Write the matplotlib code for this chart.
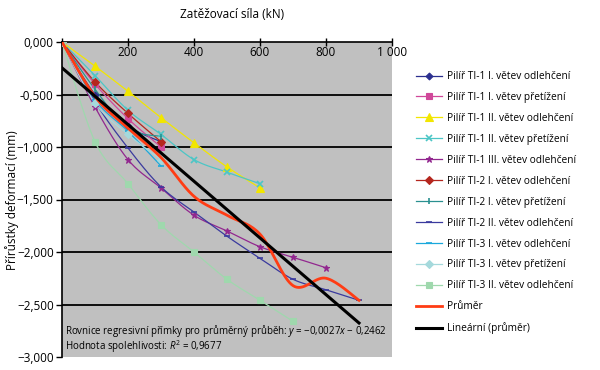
import matplotlib
matplotlib.use("Agg")
import matplotlib.pyplot as plt
import numpy as np

plt.rcParams['font.family'] = ['Open Sans', 'DejaVu Sans']
plt.rcParams['mathtext.fontset'] = 'custom'
plt.rcParams['mathtext.rm'] = 'Open Sans'
plt.rcParams['mathtext.it'] = 'Open Sans:italic'

# data (load kN -> deformation increment mm)
x_tab = [0, 100, 200, 300, 400, 500, 600, 700, 800, 900]

ti1_I_odl = [0, -0.50, -0.80, -0.95]
ti1_I_pret = [0, -0.40, -0.73, -1.00]
ti1_II_odl = [0, -0.23, -0.47, -0.72, -0.96, -1.19, -1.39]
ti1_II_pret = [0, -0.32, -0.65, -0.88, -1.12, -1.24, -1.35]
ti1_III_odl = [0, -0.62, -1.12, -1.39, -1.65, -1.80, -1.95, -2.05, -2.15]
ti2_I_odl = [0, -0.38, -0.68, -0.95]
ti2_I_pret = [0, -0.45, -0.82, -0.90]
ti2_II_odl = [0, -0.57, -1.01, -1.38, -1.62, -1.85, -2.06, -2.26, -2.36, -2.46]
ti3_I_odl = [0, -0.55, -0.85, -1.18]
ti3_I_pret = [0, -0.58, -0.88, -1.12]
ti3_II_odl = [0, -0.95, -1.35, -1.74, -2.00, -2.26, -2.46, -2.66]
prumer = [0, -0.52, -0.82, -1.10, -1.47, -1.65, -1.83, -2.32, -2.25, -2.46]

slope, intercept = -0.0027, -0.2462
lin_x = [0, 900]

labels = [
    'Pilíř TI-1 I. větev odlehčení',
    'Pilíř TI-1 I. větev přetížení',
    'Pilíř TI-1 II. větev odlehčení',
    'Pilíř TI-1 II. větev přetížení',
    'Pilíř TI-1 III. větev odlehčení',
    'Pilíř TI-2 I. větev odlehčení',
    'Pilíř TI-2 I. větev přetížení',
    'Pilíř TI-2 II. větev odlehčení',
    'Pilíř TI-3 I. větev odlehčení',
    'Pilíř TI-3 I. větev přetížení',
    'Pilíř TI-3 II. větev odlehčení',
    'Průměr',
    'Lineární (průměr)',
]
series = [ti1_I_odl, ti1_I_pret, ti1_II_odl, ti1_II_pret, ti1_III_odl, ti2_I_odl,
          ti2_I_pret, ti2_II_odl, ti3_I_odl, ti3_I_pret, ti3_II_odl]
colors = ['#2b2f8f', '#d0489a', '#f2e600', '#4cc6c6', '#92278f', '#b5261e',
          '#2a9090', '#3a3a9e', '#1aa8dc', '#a5d9dc', '#9fd8ad']
markers = ['D', 's', '^', 'x', '*', 'D', '|', '_', '_', 'D', 's']
msizes = [3.5, 4.5, 5.5, 4, 5, 4.5, 5, 4, 5, 4, 4.5]

x_ticks = [0, 200, 400, 600, 800, 1000]
x_ticklabels = ['', '200', '400', '600', '800', '1 000']
y_ticks = [0, -0.5, -1.0, -1.5, -2.0, -2.5, -3.0]
y_ticklabels = ['0,000', '-0,500', '\u22121,000', '\u22121,500', '\u22122,000', '\u22122,500', '\u22123,000']


def smooth(xs, ys, n=20):
    # Catmull-Rom curve through the points (like Excel "smoothed line")
    xs = np.asarray(xs, float)
    ys = np.asarray(ys, float)
    P = np.column_stack([xs, ys])
    P = np.vstack([P[0], P, P[-1]])
    out = []
    t = np.linspace(0, 1, n)[:, None]
    for i in range(1, len(P) - 2):
        p0, p1, p2, p3 = P[i - 1], P[i], P[i + 1], P[i + 2]
        seg = 0.5 * ((2 * p1) + (-p0 + p2) * t + (2 * p0 - 5 * p1 + 4 * p2 - p3) * t ** 2
                     + (-p0 + 3 * p1 - 3 * p2 + p3) * t ** 3)
        out.append(seg)
    out = np.vstack(out)
    return out[:, 0], out[:, 1]


fig = plt.figure(figsize=(6, 3.7), dpi=100)
ax = fig.add_axes([62 / 600, 13 / 370, 330 / 600, 315 / 370])
ax.set_facecolor('#c0c0c0')

handles = []
for ys, c, m, ms, lab in zip(series, colors, markers, msizes, labels):
    xs = x_tab[:len(ys)]
    sx, sy = smooth(xs, ys)
    ax.plot(sx, sy, color=c, lw=0.9, zorder=3)
    mw = 1.2 if m in ('x', '|', '_') else 0.8
    ax.plot(xs, ys, ls='none', marker=m, ms=ms, color=c, mec=c, mew=mw, zorder=4)
    h, = ax.plot([], [], color=c, lw=0.9, marker=m, ms=ms, mec=c, mew=mw, label=lab)
    handles.append(h)

sx, sy = smooth(x_tab, prumer)
ax.plot(sx, sy, color='#ff3c14', lw=2.0, zorder=5)
h, = ax.plot([], [], color='#ff3c14', lw=2.0, label=labels[11])
handles.append(h)

lx = np.array(lin_x, float)
ax.plot(lx, slope * lx + intercept, color='black', lw=2.2, zorder=6)
h, = ax.plot([], [], color='black', lw=2.2, label=labels[12])
handles.append(h)

ax.set_xlim(0, 1000)
ax.set_ylim(-3.0, 0)

for yv in y_ticks[1:-1]:
    ax.axhline(yv, color='black', lw=1.3, zorder=1)

for s in ['bottom', 'right']:
    ax.spines[s].set_visible(False)
ax.spines['left'].set_linewidth(1.2)
ax.spines['top'].set_linewidth(1.2)

ax.set_yticks(y_ticks)
ax.set_yticklabels(y_ticklabels, fontsize=8.5)
ax.tick_params(axis='y', direction='out', length=4, width=1, pad=2)

ax.xaxis.tick_top()
ax.set_xticks(x_ticks)
ax.set_xticklabels(x_ticklabels, fontsize=8.5)
ax.tick_params(axis='x', direction='inout', length=6, width=1, pad=-15)

fig.text(232 / 600, 1 - 15 / 370, 'Zatěžovací síla (kN)', ha='center', va='center', fontsize=8.5)
fig.text(12 / 600, 1 - 200 / 370, 'Přírůstky deformací (mm)', rotation=90,
         ha='center', va='center', fontsize=8.5)

ax.text(8, -2.755, 'Rovnice regresivní přímky pro průměrný průběh: $y$ = \u22120,0027$x$ \u2212 0,2462',
        fontsize=7, va='center', ha='left', zorder=7)
ax.text(8, -2.905, 'Hodnota spolehlivosti: $R^2$ = 0,9677',
        fontsize=7, va='center', ha='left', zorder=7)

fig.legend(handles=handles, loc='upper left', bbox_to_anchor=(412 / 600, 1 - 67 / 370),
           frameon=False, fontsize=7.3, handlelength=2.6, handletextpad=0.5,
           labelspacing=0.98, borderaxespad=0)

fig.savefig('out.png', dpi=100)
